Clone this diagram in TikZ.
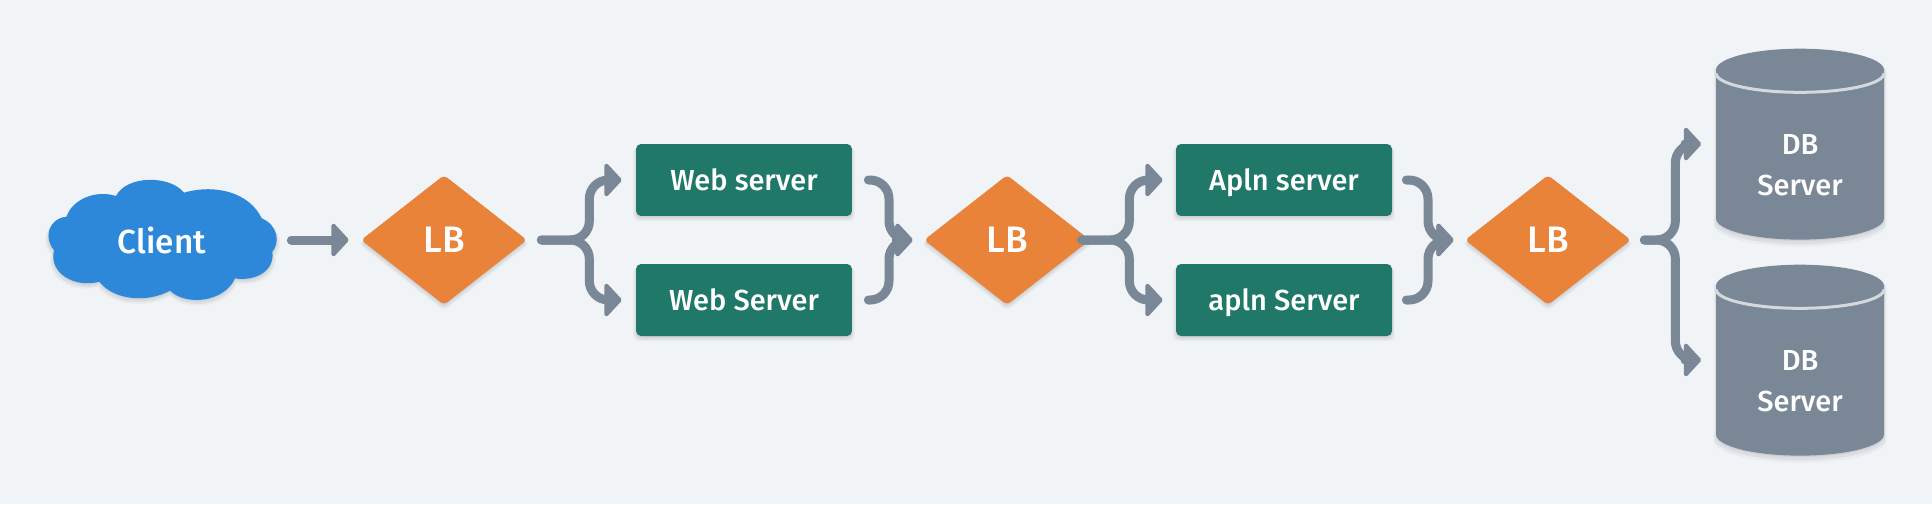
\documentclass[tikz,border=0pt]{standalone}
\usepackage{fontspec}
\setmainfont{Fira Sans Medium}
\usetikzlibrary{arrows.meta,shapes.geometric,shadows}
\definecolor{fondpage}{HTML}{F0F4F7}
\definecolor{bleu}{HTML}{2D88DA}
\definecolor{orange}{HTML}{E9833A}
\definecolor{vert}{HTML}{207868}
\definecolor{gris}{HTML}{7A8796}
\definecolor{liseret}{HTML}{D5D9DD}
\begin{document}
\begin{tikzpicture}[
    x=0.02cm, y=-0.02cm,
    % Ombre douce sous les formes
    ombre/.style={
        general shadow={shadow xshift=0pt, shadow yshift=-.08cm, shadow scale=1.03, fill=black, opacity=.03},
        general shadow={shadow xshift=0pt, shadow yshift=-.06cm, shadow scale=1.015, fill=black, opacity=.05},
        general shadow={shadow xshift=0pt, shadow yshift=-.03cm, fill=black, opacity=.06}},
    label/.style={text=white, font=\fontsize{16.5}{19}\selectfont},
    client/.style={label, font=\fontsize{19}{22}\selectfont, minimum width=4.56cm, minimum height=2.4cm, inner sep=0pt},
    lb/.style={diamond, ombre, fill=orange, rounded corners=.08cm, aspect=1.28, inner sep=0pt,
        minimum width=3.32cm, minimum height=2.6cm, text=white, font=\fontsize{21}{24}\selectfont},
    server/.style={rectangle, ombre, fill=vert, rounded corners=.1cm, label,
        minimum width=4.32cm, minimum height=1.44cm, inner sep=0pt, text height=.5cm, text depth=.1cm},
    db/.style={cylinder, shape border rotate=90, ombre, fill=gris, aspect=.5, label, align=center,
        minimum width=3.36cm, minimum height=3.82cm, inner sep=0pt},
    rim/.style={draw=liseret, line width=.06cm},
    conn/.style={draw=gris, line width=.18cm, line cap=round, rounded corners=.38cm,
        -{Triangle[length=.36cm, width=.76cm, round, line width=.08cm]}},
]
% Fond
\fill[fondpage] (0,0) rectangle (1932,504);
\useasboundingbox (0,0) rectangle (1932,504);
% Nuage
\begin{scope}[shift={(30,150)}, x=0.02cm/3, y=-0.02cm/3]
\fill[bleu, ombre] (110,200) .. controls (125,150) and (195,118) .. (258,138)
    .. controls (290,75) and (420,75) .. (462,128)
    .. controls (560,100) and (660,130) .. (695,205)
    .. controls (745,225) and (750,280) .. (727,305)
    .. controls (735,360) and (680,395) .. (615,385)
    .. controls (585,455) and (470,470) .. (420,422)
    .. controls (350,460) and (250,450) .. (208,395)
    .. controls (135,415) and (55,370) .. (72,300)
    .. controls (40,265) and (55,205) .. (110,200) -- cycle;
\end{scope}
\node[client] (cl) at (162,240) {Client};
% Equilibreurs
\node[lb] (lb1) at (444,240) {LB};
\node[lb] (lb2) at (1007,240) {LB};
\node[lb] (lb3) at (1548,240) {LB};
% Serveurs
\node[server] (web1) at (744,180) {Web server};
\node[server] (web2) at (744,300) {Web Server};
\node[server] (app1) at (1284,180) {Apln server};
\node[server] (app2) at (1284,300) {apln Server};
% Bases
\node[db] (db1) at (1800,155) {\rule{0pt}{.8cm}DB\ \\[.16cm] Server};
\node[db] (db2) at (1800,371) {\rule{0pt}{.8cm}DB\ \\[.16cm] Server};
\draw[rim] ([shift={(-84,25)}]db1.top) arc[start angle=180, end angle=360, x radius=1.68cm, y radius=.38cm];
\draw[rim] ([shift={(-84,25)}]db2.top) arc[start angle=180, end angle=360, x radius=1.68cm, y radius=.38cm];
% Points de jonction
\coordinate (m1) at (889,240);
\coordinate (m2) at (1428,240);
% Liaisons
\draw[conn] ([xshift=.3cm]cl.east) -- ([xshift=-.24cm]lb1.west);
\draw[conn] ([xshift=.28cm]lb1.east) -- ([xshift=1.24cm]lb1.east) |- ([xshift=-.28cm]web1.west);
\draw[conn] ([xshift=.28cm]lb1.east) -- ([xshift=1.24cm]lb1.east) |- ([xshift=-.28cm]web2.west);
\draw[conn] ([xshift=.32cm]web1.east) -| (m1) -- ([xshift=-.22cm]lb2.west);
\draw[conn] ([xshift=.32cm]web2.east) -| (m1) -- ([xshift=-.22cm]lb2.west);
\draw[conn] ([xshift=-.17cm]lb2.east) -- ([xshift=.78cm]lb2.east) |- ([xshift=-.26cm]app1.west);
\draw[conn] ([xshift=-.17cm]lb2.east) -- ([xshift=.78cm]lb2.east) |- ([xshift=-.26cm]app2.west);
\draw[conn] ([xshift=.28cm]app1.east) -| (m2) -- ([xshift=-.22cm]lb3.west);
\draw[conn] ([xshift=.28cm]app2.east) -| (m2) -- ([xshift=-.22cm]lb3.west);
\draw[conn] ([xshift=.26cm]lb3.east) -- ([xshift=.88cm]lb3.east) |- ([shift={(-.29cm,.22cm)}]db1.west);
\draw[conn] ([xshift=.26cm]lb3.east) -- ([xshift=.88cm]lb3.east) |- ([shift={(-.29cm,.22cm)}]db2.west);
\end{tikzpicture}
\end{document}
